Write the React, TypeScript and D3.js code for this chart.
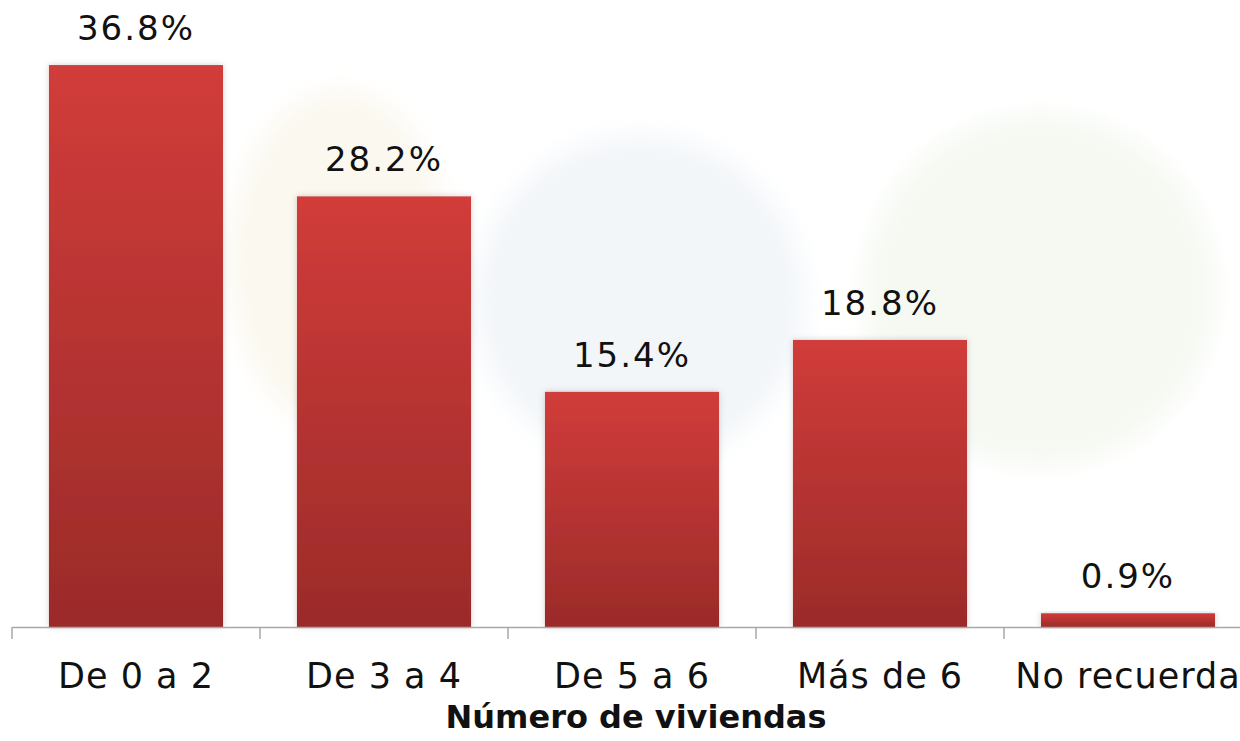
import React from "react";
import * as d3 from "d3";

const categories = ["De 0 a 2", "De 3 a 4", "De 5 a 6", "Más de 6", "No recuerda"];
const values = [36.8, 28.2, 15.4, 18.8, 0.9];
const valueLabels = ["36.8%", "28.2%", "15.4%", "18.8%", "0.9%"];
const axisTitle = "Número de viviendas";

const W = 1240;
const H = 741;
const baseY = 627;
const x0 = 12;
const x1 = 1252;

export default function App() {
  const x = d3.scaleBand<string>().domain(categories).range([x0, x1]).paddingInner(0.298).paddingOuter(0.149);
  const y = d3.scaleLinear().domain([0, 36.8]).range([baseY, baseY - 36.8 * 15.27]);
  const step = x.step();
  const tickXs = d3.range(categories.length + 1).map((i) => x0 + i * step);
  const font = "Verdana, 'DejaVu Sans', sans-serif";
  return (
    <div style={{ position: "absolute", left: 0, top: 0, width: W, height: H, background: "#fff" }}>
      <svg width={W} height={H} style={{ display: "block" }}>
        <defs>
          <linearGradient id="barGrad" x1="0" y1="0" x2="0" y2="1">
            <stop offset="0%" stopColor="#d13c3a" />
            <stop offset="100%" stopColor="#9b2b29" />
          </linearGradient>
          <filter id="shadow" x="-10%" y="-10%" width="120%" height="120%">
            <feDropShadow dx="0" dy="0" stdDeviation="3" floodColor="#000" floodOpacity="0.18" />
          </filter>
          <filter id="blur" x="-20%" y="-20%" width="140%" height="140%">
            <feGaussianBlur stdDeviation="12" />
          </filter>
        </defs>
        <g filter="url(#blur)">
          <ellipse cx={340} cy={260} rx={110} ry={170} fill="#fbf8ef" />
          <circle cx={640} cy={300} r={165} fill="#f3f6f9" />
          <circle cx={1040} cy={290} r={175} fill="#f5f9f2" />
        </g>
        {categories.map((c, i) => (
          <g key={c}>
            <rect
              x={x(c)}
              y={y(values[i])}
              width={x.bandwidth()}
              height={baseY - y(values[i])}
              fill="url(#barGrad)"
              filter="url(#shadow)"
            />
            <text
              x={(x(c) as number) + x.bandwidth() / 2}
              y={y(values[i]) - 25}
              textAnchor="middle"
              fontFamily={font}
              fontSize={34}
              letterSpacing={2}
              fill="#111"
            >
              {valueLabels[i]}
            </text>
            <text
              x={(x(c) as number) + x.bandwidth() / 2}
              y={688}
              textAnchor="middle"
              fontFamily={font}
              fontSize={35}
              letterSpacing={1}
              fill="#111"
            >
              {c}
            </text>
          </g>
        ))}
        <line x1={x0} x2={W} y1={baseY + 0.5} y2={baseY + 0.5} stroke="#a8a8a8" strokeWidth={1.5} />
        {tickXs.map((tx, i) => (
          <line key={i} x1={tx} x2={tx} y1={baseY} y2={baseY + 12} stroke="#a8a8a8" strokeWidth={1.5} />
        ))}
        <text
          x={(x0 + x1) / 2 + 4}
          y={728}
          textAnchor="middle"
          fontFamily={font}
          fontSize={32}
          fontWeight="bold"
          fill="#111"
        >
          {axisTitle}
        </text>
      </svg>
    </div>
  );
}
